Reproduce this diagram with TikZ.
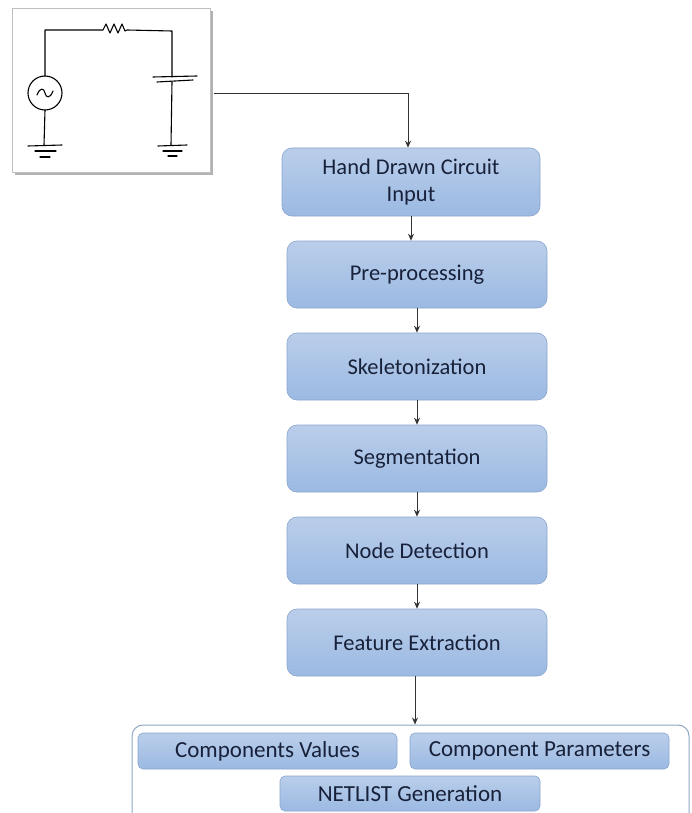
\documentclass[tikz,border=0pt]{standalone}
\usepackage{fontspec}
\setmainfont{Carlito}
\usetikzlibrary{arrows.meta,shadows,calc}
\definecolor{boxtop}{HTML}{BACEEA}
\definecolor{boxbot}{HTML}{9BB9E2}
\definecolor{boxline}{HTML}{8AA6CE}
\definecolor{txt}{HTML}{18213A}
\definecolor{contline}{HTML}{8FA6C4}
\tikzset{
  stepbox/.style={draw=boxline, line width=0.6pt, rounded corners=10pt,
    top color=boxtop, bottom color=boxbot, text=txt,
    minimum width=260pt, minimum height=67pt, align=center,
    font=\fontsize{22.5}{27}\selectfont, inner sep=2pt},
  subbox/.style={draw=boxline, line width=0.6pt, rounded corners=5pt,
    top color=boxtop, bottom color=boxbot, text=txt,
    minimum width=259pt, minimum height=36pt, align=center,
    font=\fontsize{23}{26}\selectfont, inner sep=1pt},
  arr/.style={draw=black!80, line width=0.9pt, -{Stealth[length=7pt,width=6pt]}},
  wire/.style={draw=black, line width=1.1pt, line cap=round, line join=round},
}
\begin{document}
\begin{tikzpicture}[x=1pt,y=-1pt]
\useasboundingbox (0,0) rectangle (691,813);
\clip (0,0) rectangle (691,813);
\fill[white] (0,0) rectangle (691,813);

% hand drawn circuit picture
\fill[black!30] (15,11) rectangle (213,175);
\node[draw=black!25, fill=white, line width=0.6pt, minimum width=198pt, minimum height=164pt, inner sep=0pt] (img) at (111,90) {};
\draw[wire] (45,76) -- (45,30) -- (103,30) -- (106,24) -- (110,33) -- (114,24) -- (118,33) -- (122,24) -- (125,31) -- (127,30) -- (172,31) -- (172,77);
\draw[wire] (153,77) -- (197,76);
\draw[wire] (157,82) -- (193,80);
\draw[wire] (172,82) -- (171,145);
\draw[wire] (158,146) -- (187,145);
\draw[wire] (163,151) -- (182,151);
\draw[wire] (168,156) -- (177,156);
\draw[wire] (45,93) circle (17);
\draw[wire] (37,95) .. controls (40,87) and (44,88) .. (45,93) .. controls (46,98) and (50,99) .. (53,91);
\draw[wire] (45,110) -- (44,145);
\draw[wire] (28,146) -- (62,145);
\draw[wire] (35,151) -- (56,151);
\draw[wire] (40,157) -- (50,157);

% flow boxes
\node[stepbox, minimum width=258pt, minimum height=68pt] (b1) at (411,182) {Hand Drawn Circuit\\Input};
\node[stepbox] (b2) at (417,274.5) {Pre-processing};
\node[stepbox] (b3) at (417,366.5) {Skeletonization};
\node[stepbox] (b4) at (417,458.5) {Segmentation};
\node[stepbox] (b5) at (417,550.5) {Node Detection};
\node[stepbox] (b6) at (417,642.5) {Feature Extraction};

% bottom container
\node[draw=contline, line width=1pt, rounded corners=11pt, minimum width=557pt, minimum height=110pt, inner sep=0pt] (cont) at (410.5,780) {};
\node[subbox] (cv) at (267.5,751) {Components Values};
\node[subbox] (cp) at (539.5,751) {Component Parameters};
\node[subbox, minimum width=260pt, minimum height=35pt] (ng) at (410,793.5) {NETLIST Generation};

% connectors
\draw[arr] ([xshift=4pt,yshift=-3pt]img.east) -| ([xshift=-3pt]b1.north);
\draw[arr] (b1.south) -- (b1.south |- b2.north);
\draw[arr] (b2.south) -- (b2.south |- b3.north);
\draw[arr] (b3.south) -- (b3.south |- b4.north);
\draw[arr] (b4.south) -- (b4.south |- b5.north);
\draw[arr] (b5.south) -- (b5.south |- b6.north);
\draw[arr] ([xshift=-2pt]b6.south) -- ([xshift=-2pt]b6.south |- cont.north);
\end{tikzpicture}
\end{document}
